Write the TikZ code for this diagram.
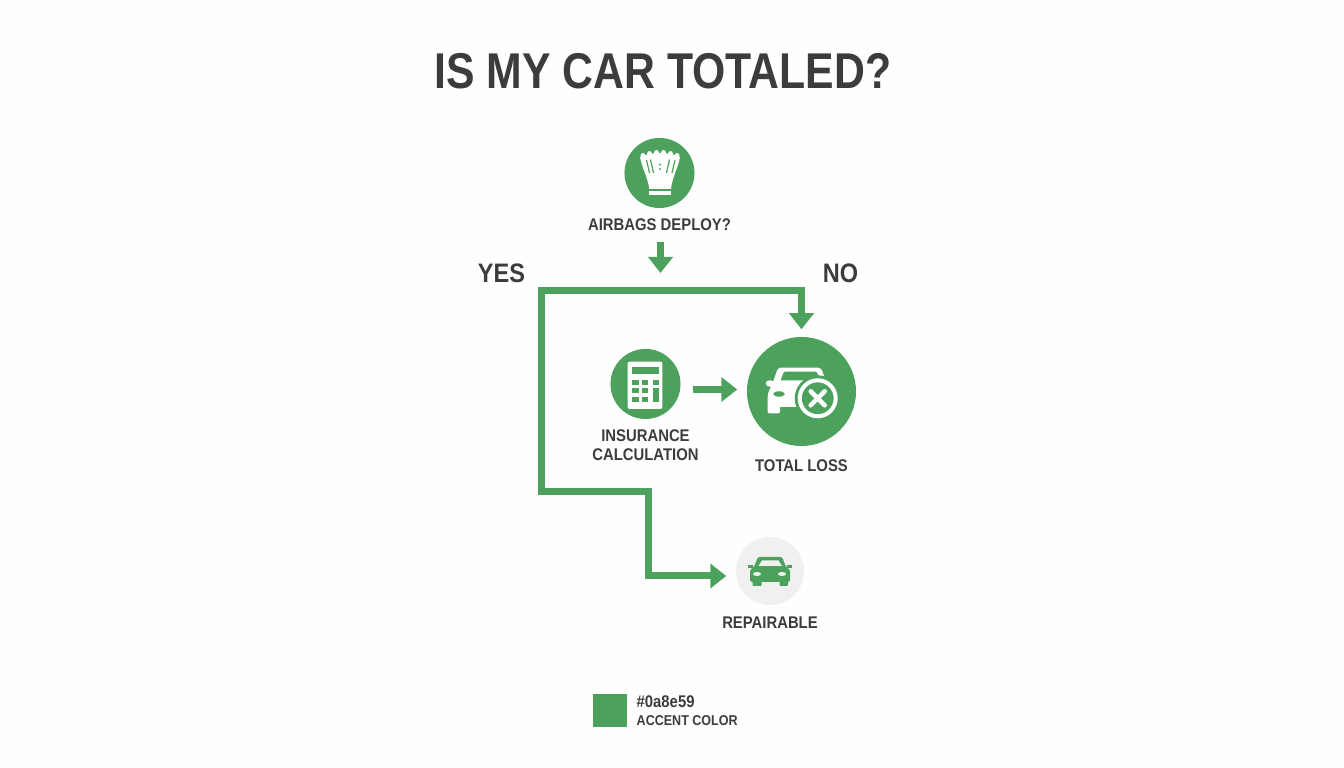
\documentclass[tikz,border=0pt]{standalone}
\usepackage{fontspec}
\setmainfont{Liberation Sans}
\newfontfamily\titlefont[FakeStretch=0.85]{Liberation Sans}
\newfontfamily\tagfont[FakeStretch=0.88]{Liberation Sans}
\usetikzlibrary{positioning}
\usetikzlibrary{arrows.meta}
\definecolor{accent}{HTML}{4CA25C}
\definecolor{inktxt}{HTML}{3C3C3C}
\definecolor{paper}{HTML}{FDFEFD}
\definecolor{softgrey}{HTML}{F0F0F0}
\tikzset{>={Triangle[width=0.24cm,length=0.16cm]}}

\begin{document}
\begin{tikzpicture}[x=0.01cm, y=-0.01cm,
    node/.style={circle, fill=accent, inner sep=0pt, minimum size=0.70cm},
    bignode/.style={circle, fill=accent, inner sep=0pt, minimum size=1.09cm},
    greynode/.style={circle, fill=softgrey, inner sep=0pt, minimum size=0.68cm},
    title/.style={inner sep=0pt, text=inktxt, font=\titlefont\fontsize{14.3}{17}\selectfont\bfseries},
    answer/.style={inner sep=0pt, text=inktxt, font=\tagfont\fontsize{7.6}{9}\selectfont\bfseries},
    tag/.style={inner sep=0pt, align=center, text=inktxt, font=\tagfont\fontsize{4.8}{5.4}\selectfont\bfseries},
    legend/.style={inner sep=0pt, text=inktxt, font=\tagfont\fontsize{4.05}{5}\selectfont\bfseries} ,
    flow/.style={draw=accent, line width=0.07cm} ]

    %Page
    \path[use as bounding box, fill=paper] (0,0) rectangle (1344,768);

    %Nodes
    \node[title] (head_txt) at (663,71) {IS MY CAR TOTALED?};
    \node[node] (airbags) at (659.5,173) {};
    \node[tag] (airbags_txt) [below=0.09cm of airbags] {AIRBAGS DEPLOY?};
    \node[answer] (yes_txt) at (501.5,273.5) {YES};
    \node[answer] (no_txt) at (840.5,273.5) {NO};
    \node[node] (calc_ins) at (645.5,384) {};
    \node[tag] (calc_ins_txt) [below=0.09cm of calc_ins] {INSURANCE\\CALCULATION};
    \node[bignode] (total_loss) at (801.5,391.5) {};
    \node[tag] (total_loss_txt) [below=0.12cm of total_loss] {TOTAL LOSS};
    \node[greynode] (repair) at (770,571) {};
    \node[tag] (repair_txt) [below=0.105cm of repair] {REPAIRABLE};
    \node[fill=accent, inner sep=0pt, minimum width=0.34cm, minimum height=0.33cm] (swatch) at (610,710.5) {};
    \node[legend, font=\tagfont\fontsize{4.8}{5}\selectfont\bfseries, anchor=west] (hex_txt) at (636,702) {\#0a8e59};
    \node[legend, anchor=north west] (accent_txt) at (636,714.5) {ACCENT COLOR};

    %Bends
    \coordinate (fork) at (660.5,291);
    \coordinate (top_left) at (541.5,291);
    \coordinate (low_left) at (541.5,492);
    \coordinate (low_mid) at (648.5,492);
    \coordinate (bottom_mid) at (648.5,576);
    \coordinate (calc_row) at (700,389.5);

    %Lines
    \draw[flow, ->, shorten <=0.11cm, shorten >=0.18cm] (airbags_txt.south -| fork) -- (fork);
    \draw[flow, ->, shorten >=0.07cm] (fork) -| (total_loss.north);
    \draw[flow, ->, shorten >=0.09cm] (fork) -- (top_left) -- (low_left) -- (low_mid) -- (bottom_mid) -- (bottom_mid -| repair.west);
    \draw[flow, ->, shorten <=0.12cm, shorten >=0.09cm] (calc_row -| calc_ins.east) -- (calc_row -| total_loss.west);

    %Airbag icon
    \fill[white] (640,157) .. controls (642,168) and (648,178) .. (649.3,189) -- (671,189) .. controls (672,178) and (678,168) .. (680,157) .. controls (672,152) and (648,152) .. cycle;
    \fill[white] (643,155.5) circle (2.4) (649.5,153.5) circle (2.4) (656.5,152.5) circle (2.4) (663.5,152.5) circle (2.4) (670.5,153.5) circle (2.4) (677,155.5) circle (2.4);
    \fill[white] (649.3,191) rectangle (670.7,194.7);
    \draw[accent, line width=0.012cm] (646.5,160) -- (649.5,173) (650.5,159.5) -- (653.5,173) (669.5,159.5) -- (666.5,173) (675,160) -- (672,173);
    \fill[accent] (660,164.5) circle (1.2) (660,169) circle (1.2);

    %Calculator icon
    \fill[white, rounded corners=0.02cm] (627.7,361.7) rectangle (662.3,409);
    \fill[accent] (631.7,366.7) rectangle (659,374);
    \fill[accent] (632.3,380) rectangle (639,385);
    \fill[accent] (642.3,380) rectangle (648.3,385);
    \fill[accent] (652.7,380) rectangle (659,385);
    \fill[accent] (632.3,388.3) rectangle (639,393.3);
    \fill[accent] (642.3,388.3) rectangle (648.3,393.3);
    \fill[accent] (632.3,396.7) rectangle (639,402.3);
    \fill[accent] (642.3,396.7) rectangle (648.3,402.3);
    \fill[accent] (652.7,388.3) rectangle (659,402.3);

    %Wrecked car icon
    \fill[white, rounded corners=0.03cm] (767.7,394) -- (773,382) -- (778,367.7) -- (821,367.7) -- (827,384) -- (827,407) -- (767.7,407) -- cycle;
    \fill[white, rounded corners=0.015cm] (767.7,403) rectangle (780,413.5);
    \fill[white] (770,383.5) ellipse (4.3 and 3.3);
    \fill[accent, rounded corners=0.01cm] (780.5,380.5) -- (784,371.7) -- (816.5,371.7) -- (821,380.5) -- cycle;
    \fill[accent] (779,394) ellipse (5.8 and 2.7);
    \fill[accent] (817.7,398.3) circle (23);
    \draw[white, line width=0.04cm] (817.7,398.3) circle (18);
    \draw[white, line width=0.045cm, line cap=round] (810.7,391.3) -- (824.7,405.3) (824.7,391.3) -- (810.7,405.3);

    %Repairable car icon
    \fill[accent, rounded corners=0.015cm] (750,570) -- (754,567) -- (758,557) -- (782,557) -- (786,567) -- (790,570) -- (790,582) -- (750,582) -- cycle;
    \fill[accent] (748,565.5) rectangle (753,568.5);
    \fill[accent] (787,565.5) rectangle (792,568.5);
    \fill[accent, rounded corners=0.01cm] (752.7,580) rectangle (761.7,586);
    \fill[accent, rounded corners=0.01cm] (779.5,580) rectangle (788,586);
    \fill[softgrey] (758.5,566) -- (762,560.5) -- (778.5,560.5) -- (782,566) -- cycle;
    \fill[softgrey] (757,574) ellipse (4 and 2);
    \fill[softgrey] (782,574) ellipse (4 and 2);
    \end{tikzpicture}
\end{document}
